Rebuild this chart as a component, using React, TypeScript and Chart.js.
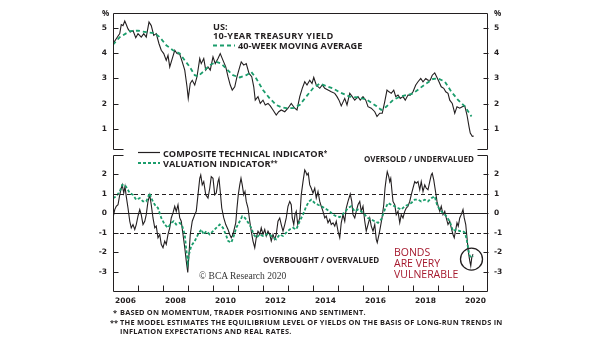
import React, { useEffect, useRef } from 'react';
import { Chart, registerables } from 'chart.js';

Chart.register(...registerables);

// ---------- DATA ----------
// US 10-year Treasury yield (%), [decimal year, value]
const treasuryYield: number[][] = [
  [2006.0, 4.38], [2006.13, 4.58], [2006.27, 4.78], [2006.33, 5.14], [2006.4, 5.1], [2006.47, 5.28], [2006.53, 5.14], [2006.6, 4.97], [2006.69, 4.84], [2006.8, 4.9], [2006.91, 4.62],
  [2007.0, 4.78], [2007.13, 4.64], [2007.23, 4.78], [2007.33, 4.64], [2007.44, 5.24], [2007.53, 5.1], [2007.63, 4.71], [2007.73, 4.78], [2007.84, 4.38], [2007.93, 4.12],
  [2008.03, 3.99], [2008.13, 3.72], [2008.2, 3.92], [2008.27, 3.46], [2008.37, 3.79], [2008.47, 4.12], [2008.56, 3.99], [2008.67, 3.96], [2008.77, 3.66], [2008.87, 3.33], [2008.96, 2.67],
  [2009.01, 2.21], [2009.09, 2.8], [2009.17, 2.93], [2009.27, 2.74], [2009.36, 3.07], [2009.47, 3.79], [2009.53, 3.59], [2009.63, 3.79], [2009.71, 3.33], [2009.8, 3.46], [2009.89, 3.33],
  [2010.0, 3.86], [2010.09, 3.59], [2010.2, 3.79], [2010.29, 3.99], [2010.4, 3.72], [2010.51, 3.46], [2010.6, 3.07], [2010.69, 2.74], [2010.77, 2.54], [2010.87, 2.67], [2010.96, 3.07],
  [2011.07, 3.46], [2011.13, 3.66], [2011.23, 3.53], [2011.33, 3.59], [2011.44, 3.2], [2011.55, 3.07], [2011.63, 2.67], [2011.69, 2.14], [2011.8, 2.28], [2011.89, 2.01],
  [2012.0, 2.14], [2012.09, 1.95], [2012.2, 2.01], [2012.29, 1.91], [2012.4, 1.75], [2012.53, 1.55], [2012.63, 1.68], [2012.73, 1.75], [2012.87, 1.68],
  [2013.0, 1.82], [2013.13, 2.01], [2013.27, 1.82], [2013.36, 1.75], [2013.47, 2.28], [2013.57, 2.61], [2013.67, 2.87], [2013.76, 2.74], [2013.87, 2.93], [2013.96, 2.8],
  [2014.03, 3.04], [2014.13, 2.74], [2014.27, 2.61], [2014.37, 2.74], [2014.47, 2.61], [2014.6, 2.54], [2014.73, 2.47], [2014.87, 2.41], [2014.96, 2.28],
  [2015.04, 2.14], [2015.13, 1.91], [2015.27, 2.21], [2015.36, 1.95], [2015.47, 2.41], [2015.57, 2.28], [2015.67, 2.14], [2015.8, 2.28], [2015.89, 2.14],
  [2016.0, 2.28], [2016.11, 2.14], [2016.2, 1.88], [2016.33, 1.82], [2016.47, 1.68], [2016.56, 1.49], [2016.67, 1.62], [2016.77, 1.62], [2016.87, 2.08], [2016.96, 2.54],
  [2017.04, 2.47], [2017.13, 2.41], [2017.23, 2.54], [2017.31, 2.28], [2017.4, 2.34], [2017.49, 2.21], [2017.6, 2.28], [2017.69, 2.14], [2017.8, 2.34], [2017.89, 2.34],
  [2018.0, 2.47], [2018.11, 2.74], [2018.2, 2.87], [2018.31, 3.0], [2018.4, 2.87], [2018.51, 3.0], [2018.6, 2.93], [2018.69, 2.93], [2018.77, 3.13], [2018.87, 3.22], [2018.96, 3.04],
  [2019.04, 2.87], [2019.13, 2.67], [2019.23, 2.61], [2019.31, 2.47], [2019.4, 2.41], [2019.47, 2.14], [2019.57, 2.01], [2019.67, 1.62], [2019.76, 1.88], [2019.87, 1.82], [2019.97, 1.88],
  [2020.07, 1.91], [2020.16, 1.55], [2020.24, 1.09], [2020.29, 0.83], [2020.37, 0.7], [2020.43, 0.72],
];

// 40-week moving average (%)
const movingAverage: number[][] = [
  [2006.0, 4.34], [2006.27, 4.64], [2006.67, 4.88], [2007.0, 4.9], [2007.33, 4.84], [2007.67, 4.8], [2007.87, 4.64],
  [2008.13, 4.32], [2008.4, 4.12], [2008.67, 3.99], [2008.87, 3.72], [2009.07, 3.46], [2009.27, 3.13], [2009.4, 3.09],
  [2009.6, 3.26], [2009.87, 3.53], [2010.13, 3.66], [2010.33, 3.59], [2010.53, 3.39], [2010.8, 3.13], [2011.07, 3.04],
  [2011.33, 3.13], [2011.53, 3.26], [2011.73, 3.0], [2012.0, 2.54], [2012.27, 2.21], [2012.53, 1.95], [2012.73, 1.86],
  [2012.93, 1.82], [2013.2, 1.82], [2013.47, 1.95], [2013.73, 2.28], [2014.0, 2.61], [2014.27, 2.8], [2014.53, 2.7],
  [2014.8, 2.61], [2015.07, 2.45], [2015.47, 2.28], [2015.8, 2.25], [2016.13, 2.17], [2016.53, 1.91], [2016.73, 1.75],
  [2016.93, 1.88], [2017.2, 2.14], [2017.47, 2.28], [2017.73, 2.34], [2018.0, 2.4], [2018.27, 2.61], [2018.53, 2.8],
  [2018.8, 2.98], [2019.0, 3.0], [2019.27, 2.88], [2019.53, 2.48], [2019.8, 2.15], [2020.07, 1.89], [2020.34, 1.49],
];

// Composite technical indicator
const technicalIndicator: number[][] = [
  [2006.0, -0.24], [2006.07, 0.19], [2006.13, 0.36], [2006.2, 0.44], [2006.27, 0.95], [2006.33, 1.29], [2006.37, 1.46], [2006.43, 1.04], [2006.48, 1.38], [2006.53, 0.87], [2006.6, 0.27], [2006.67, -0.41], [2006.73, -0.75], [2006.8, -0.58], [2006.87, -0.83], [2006.93, -0.58],
  [2007.0, -0.15], [2007.07, 0.19], [2007.13, -0.07], [2007.2, -0.58], [2007.27, -0.41], [2007.33, -0.07], [2007.4, 0.61], [2007.47, 0.95], [2007.53, 0.44], [2007.6, -0.24], [2007.67, -0.75], [2007.73, -0.66], [2007.8, -1.26], [2007.87, -1.09], [2007.93, -1.6],
  [2008.0, -1.77], [2008.07, -1.43], [2008.13, -1.6], [2008.2, -1.09], [2008.27, -0.75], [2008.33, -0.24], [2008.4, 0.02], [2008.47, 0.36], [2008.53, 0.1], [2008.6, 0.44], [2008.67, -0.24], [2008.73, -0.41], [2008.8, -1.09], [2008.87, -1.77], [2008.93, -2.45], [2008.99, -3.04],
  [2009.04, -2.11], [2009.09, -1.09], [2009.17, -0.41], [2009.27, -0.07], [2009.33, 0.1], [2009.4, 0.95], [2009.47, 1.8], [2009.51, 1.97], [2009.57, 1.46], [2009.63, 1.63], [2009.71, 0.95], [2009.8, 0.78], [2009.87, 1.29], [2009.93, 1.89],
  [2010.0, 1.8], [2010.07, 0.95], [2010.13, 1.04], [2010.2, 1.63], [2010.24, 1.8], [2010.29, 1.12], [2010.35, 0.27], [2010.43, -0.24], [2010.51, -0.58], [2010.6, -0.83], [2010.67, -1.09], [2010.73, -1.26], [2010.77, -1.17], [2010.83, -0.92], [2010.91, -0.49], [2010.96, 0.27],
  [2011.01, 0.95], [2011.07, 1.46], [2011.12, 1.8], [2011.17, 1.46], [2011.23, 0.95], [2011.28, 1.12], [2011.33, 0.61], [2011.4, 0.27], [2011.47, -0.41], [2011.53, -0.92], [2011.6, -1.43], [2011.67, -1.77], [2011.73, -1.26], [2011.8, -0.92], [2011.87, -1.09], [2011.93, -0.75],
  [2012.0, -1.09], [2012.07, -0.83], [2012.13, -1.17], [2012.2, -0.92], [2012.27, -1.09], [2012.33, -1.43], [2012.4, -1.09], [2012.47, -1.34], [2012.53, -1.09], [2012.6, -0.41], [2012.67, -0.24], [2012.73, -0.58], [2012.8, -0.92], [2012.87, -0.58], [2012.93, -0.24],
  [2013.0, 0.36], [2013.07, 0.61], [2013.13, 0.44], [2013.17, -0.24], [2013.23, -0.58], [2013.28, -0.07], [2013.33, 0.1], [2013.39, -0.58], [2013.47, -0.24], [2013.53, 0.95], [2013.6, 1.63], [2013.67, 2.23], [2013.71, 2.14], [2013.76, 1.97], [2013.81, 2.06], [2013.87, 1.46], [2013.93, 1.29],
  [2014.0, 1.04], [2014.07, 1.29], [2014.13, 0.78], [2014.2, 1.12], [2014.27, 0.61], [2014.33, 0.36], [2014.4, 0.1], [2014.47, -0.24], [2014.53, -0.15], [2014.6, -0.49], [2014.67, -0.32], [2014.73, -0.58], [2014.8, -0.49], [2014.87, -0.66], [2014.93, -0.41],
  [2015.0, -0.92], [2015.07, -1.26], [2015.13, -0.49], [2015.2, -0.07], [2015.27, -0.41], [2015.33, 0.27], [2015.4, 0.61], [2015.49, 0.99], [2015.55, 0.61], [2015.6, -0.07], [2015.67, -0.24], [2015.73, 0.1], [2015.8, 0.44], [2015.87, 0.61], [2015.93, 0.1],
  [2016.0, 0.36], [2016.07, -0.41], [2016.13, -0.92], [2016.2, -0.58], [2016.27, -0.24], [2016.33, -0.66], [2016.4, -0.92], [2016.47, -0.58], [2016.53, -1.34], [2016.57, -1.51], [2016.64, -1.09], [2016.69, -0.75], [2016.76, -0.24], [2016.83, 0.44], [2016.88, 1.29], [2016.93, 1.8], [2016.97, 2.14],
  [2017.03, 1.89], [2017.07, 1.63], [2017.11, 1.8], [2017.16, 1.12], [2017.2, 0.61], [2017.27, 0.44], [2017.33, -0.07], [2017.4, 0.1], [2017.47, -0.49], [2017.53, -0.07], [2017.6, -0.24], [2017.67, 0.1], [2017.73, 0.27], [2017.8, 0.36], [2017.87, 0.61], [2017.93, 0.95],
  [2018.0, 1.29], [2018.07, 1.63], [2018.13, 1.55], [2018.2, 1.63], [2018.27, 1.21], [2018.33, 1.63], [2018.4, 1.12], [2018.47, 1.46], [2018.53, 1.29], [2018.6, 1.21], [2018.67, 1.63], [2018.73, 1.97], [2018.77, 2.06], [2018.83, 1.72], [2018.89, 1.21], [2018.96, 0.61],
  [2019.01, 0.36], [2019.07, 0.1], [2019.13, 0.36], [2019.2, -0.07], [2019.27, 0.1], [2019.33, -0.24], [2019.4, -0.58], [2019.47, -0.41], [2019.53, -0.75], [2019.6, -1.09], [2019.65, -1.26], [2019.71, -0.83], [2019.76, -0.49], [2019.81, -0.66], [2019.87, -0.24], [2019.93, -0.07],
  [2020.0, 0.19], [2020.05, -0.24], [2020.11, -0.58], [2020.16, -1.26], [2020.21, -1.94], [2020.27, -2.45], [2020.31, -2.7], [2020.35, -2.28], [2020.4, -2.11],
];

// Valuation indicator
const valuationIndicator: number[][] = [
  [2006.0, 0.78], [2006.13, 0.87], [2006.27, 1.12], [2006.37, 1.46], [2006.47, 1.46], [2006.56, 1.29], [2006.67, 1.04], [2006.8, 0.95], [2006.93, 0.7],
  [2007.07, 0.78], [2007.2, 0.61], [2007.33, 0.61], [2007.47, 1.04], [2007.53, 0.78], [2007.67, 0.44], [2007.8, 0.27], [2007.93, -0.24],
  [2008.07, -0.58], [2008.2, -0.75], [2008.33, -0.49], [2008.43, -0.41], [2008.53, -0.58], [2008.67, -0.49], [2008.77, -0.66], [2008.87, -1.09], [2008.93, -1.85], [2008.99, -2.53],
  [2009.04, -2.11], [2009.13, -1.68], [2009.27, -1.43], [2009.4, -1.09], [2009.53, -0.83], [2009.63, -1.09], [2009.73, -0.92], [2009.87, -1.09],
  [2010.0, -0.92], [2010.13, -0.75], [2010.27, -0.58], [2010.4, -0.75], [2010.51, -1.09], [2010.61, -1.43], [2010.73, -1.51], [2010.83, -1.17], [2010.93, -0.75],
  [2011.07, -0.41], [2011.17, -0.15], [2011.28, -0.24], [2011.41, -0.49], [2011.53, -0.75], [2011.63, -1.09], [2011.73, -1.26], [2011.87, -1.09],
  [2012.0, -1.17], [2012.13, -1.09], [2012.27, -1.09], [2012.4, -1.26], [2012.53, -1.34], [2012.67, -1.09], [2012.8, -1.17], [2012.93, -1.0],
  [2013.07, -0.83], [2013.2, -0.75], [2013.33, -0.83], [2013.47, -0.41], [2013.6, -0.07], [2013.73, 0.36], [2013.84, 0.61], [2013.93, 0.7],
  [2014.07, 0.53], [2014.2, 0.44], [2014.33, 0.36], [2014.47, 0.27], [2014.67, 0.1], [2014.8, -0.07], [2014.93, -0.15],
  [2015.07, -0.2], [2015.27, 0.05], [2015.4, 0.27], [2015.53, 0.36], [2015.67, 0.1], [2015.8, 0.19], [2015.93, 0.1],
  [2016.07, -0.07], [2016.2, -0.24], [2016.33, -0.32], [2016.47, -0.41], [2016.6, -0.49], [2016.73, -0.32], [2016.87, 0.19],
  [2017.0, 0.53], [2017.13, 0.44], [2017.27, 0.36], [2017.4, 0.27], [2017.53, 0.19], [2017.67, 0.36], [2017.8, 0.44], [2017.93, 0.53],
  [2018.07, 0.7], [2018.2, 0.7], [2018.33, 0.61], [2018.47, 0.7], [2018.6, 0.61], [2018.73, 0.78], [2018.87, 0.87], [2018.96, 0.44],
  [2019.07, 0.19], [2019.2, 0.02], [2019.33, -0.15], [2019.47, -0.41], [2019.6, -0.92], [2019.73, -0.83], [2019.87, -0.92],
  [2020.0, -0.92], [2020.08, -1.0], [2020.16, -1.43], [2020.21, -1.85], [2020.27, -2.19], [2020.33, -2.28], [2020.4, -2.2],
];

const yearRange = [2006, 2021];
const yearTickMarks = [2007, 2008, 2009, 2010, 2011, 2012, 2013, 2014, 2015, 2016, 2017, 2018, 2019, 2020];
const yearLabels = [2006, 2008, 2010, 2012, 2014, 2016, 2018, 2020];
const yieldTicks = [1, 2, 3, 4, 5];
const yieldRange = [0.2, 5.6];
const indicatorTicks = [2, 1, 0, -1, -2, -3];
const indicatorRange = [-4, 3];
const bandLevels = [1, -1];
const highlightPoint = [2020.34, -2.36];

// ---------- STYLE ----------
const INK = '#231f20';
const GREEN = '#1b9d6c';
const RED = '#a5182d';
const tickFont = { family: 'DejaVu Sans', size: 7.5, weight: 'bold' as const };

const toPoints = (pairs: number[][]) => pairs.map(([x, y]) => ({ x, y }));

function yAxis(position: 'left' | 'right', ticks: number[], range: number[], width: number) {
  return {
    type: 'linear' as const,
    position,
    min: range[0],
    max: range[1],
    afterFit: (s: any) => { s.width = width; },
    afterBuildTicks: (s: any) => { s.ticks = ticks.map((v) => ({ value: v })); },
    grid: { display: false, drawTicks: false },
    border: { display: false },
    ticks: { padding: 6, color: INK, font: tickFont, autoSkip: false, callback: (v: any) => String(v) },
  };
}

function crisp(v: number) { return Math.round(v) + 0.5; }

function drawYTicks(ctx: CanvasRenderingContext2D, chart: any, ticks: number[]) {
  const { left, right } = chart.chartArea;
  const y = chart.scales.y;
  ticks.forEach((v) => {
    const py = crisp(y.getPixelForValue(v));
    ctx.moveTo(crisp(left), py); ctx.lineTo(crisp(left) + 5, py);
    ctx.moveTo(crisp(right) - 5, py); ctx.lineTo(crisp(right), py);
  });
}

const topPlugin = {
  id: 'topFrame',
  afterDatasetsDraw(chart: any) {
    const ctx = chart.ctx as CanvasRenderingContext2D;
    const { left, right, top, bottom } = chart.chartArea;
    const L = crisp(left), R = crisp(right) - 1, T = crisp(top), B = crisp(bottom);
    ctx.save();
    ctx.strokeStyle = INK;
    ctx.lineWidth = 1;
    ctx.beginPath();
    ctx.moveTo(L + 10, B); ctx.lineTo(L, B); ctx.lineTo(L, T); ctx.lineTo(R, T); ctx.lineTo(R, B); ctx.lineTo(R - 10, B);
    drawYTicks(ctx, chart, yieldTicks);
    ctx.stroke();
    // legend sample: moving average
    ctx.strokeStyle = GREEN;
    ctx.lineWidth = 1.8;
    ctx.setLineDash([4, 3]);
    ctx.beginPath();
    ctx.moveTo(213, 45.5); ctx.lineTo(235, 45.5);
    ctx.stroke();
    ctx.restore();
  },
};

const bottomPlugin = {
  id: 'bottomFrame',
  beforeDatasetsDraw(chart: any) {
    const ctx = chart.ctx as CanvasRenderingContext2D;
    const { left, right } = chart.chartArea;
    const y = chart.scales.y;
    ctx.save();
    ctx.strokeStyle = INK;
    ctx.lineWidth = 1;
    ctx.beginPath();
    const p0 = crisp(y.getPixelForValue(0));
    ctx.moveTo(left, p0); ctx.lineTo(right, p0);
    ctx.stroke();
    ctx.setLineDash([4, 3]);
    ctx.beginPath();
    bandLevels.forEach((lv) => {
      const p = crisp(y.getPixelForValue(lv));
      ctx.moveTo(left, p); ctx.lineTo(right, p);
    });
    ctx.stroke();
    ctx.restore();
  },
  afterDatasetsDraw(chart: any) {
    const ctx = chart.ctx as CanvasRenderingContext2D;
    const { left, right, top, bottom } = chart.chartArea;
    const L = crisp(left), R = crisp(right) - 1, T = crisp(top), B = crisp(bottom);
    const x = chart.scales.x;
    const y = chart.scales.y;
    ctx.save();
    ctx.strokeStyle = INK;
    ctx.lineWidth = 1;
    ctx.beginPath();
    ctx.moveTo(L + 10, T); ctx.lineTo(L, T); ctx.lineTo(L, B); ctx.lineTo(R, B); ctx.lineTo(R, T); ctx.lineTo(R - 10, T);
    drawYTicks(ctx, chart, indicatorTicks);
    yearTickMarks.forEach((yr) => {
      const px = crisp(x.getPixelForValue(yr));
      ctx.moveTo(px, B); ctx.lineTo(px, B - 6);
    });
    ctx.stroke();
    // legend samples
    ctx.lineWidth = 1.2;
    ctx.beginPath();
    ctx.moveTo(138, 152.5); ctx.lineTo(160, 152.5);
    ctx.stroke();
    ctx.strokeStyle = GREEN;
    ctx.lineWidth = 1.8;
    ctx.setLineDash([3, 2]);
    ctx.beginPath();
    ctx.moveTo(138, 163); ctx.lineTo(160, 163);
    ctx.stroke();
    // highlight circle
    ctx.setLineDash([]);
    ctx.strokeStyle = INK;
    ctx.lineWidth = 1.3;
    ctx.beginPath();
    ctx.arc(x.getPixelForValue(highlightPoint[0]), y.getPixelForValue(highlightPoint[1]), 11, 0, Math.PI * 2);
    ctx.stroke();
    ctx.restore();
  },
};

const baseOptions = {
  responsive: false,
  maintainAspectRatio: false,
  devicePixelRatio: 1,
  animation: false as const,
  events: [] as any[],
  plugins: { legend: { display: false }, tooltip: { enabled: false } },
  elements: { point: { radius: 0 }, line: { tension: 0 } },
};

type TxtProps = {
  x: number; cy: number; size: number; weight?: number; color?: string; family?: string; cap?: number; spacing?: number; children: React.ReactNode;
};
const Txt = ({ x, cy, size, weight = 700, color = INK, family = '"Open Sans"', cap = 0.53, spacing = 0, children }: TxtProps) => (
  <div
    style={{
      position: 'absolute', left: x, top: cy - size * cap, fontFamily: family, fontSize: size, fontWeight: weight,
      lineHeight: `${size}px`, color, whiteSpace: 'nowrap', letterSpacing: spacing,
    }}
  >
    {children}
  </div>
);

const Sup = ({ children }: { children: React.ReactNode }) => (
  <span style={{ fontSize: '0.7em', verticalAlign: '0.35em' }}>{children}</span>
);

export default function App() {
  const topRef = useRef<HTMLCanvasElement>(null);
  const bottomRef = useRef<HTMLCanvasElement>(null);

  useEffect(() => {
    const topChart = new Chart(topRef.current as HTMLCanvasElement, {
      type: 'line',
      data: {
        datasets: [
          { label: '40-WEEK MOVING AVERAGE', data: toPoints(movingAverage), borderColor: GREEN, borderWidth: 1.8, borderDash: [4, 3], order: 0 },
          { label: '10-YEAR TREASURY YIELD', data: toPoints(treasuryYield), borderColor: INK, borderWidth: 1.1, order: 1 },
        ],
      },
      options: {
        ...baseOptions,
        layout: { padding: { left: 0, right: 0, top: 13, bottom: 192 } },
        scales: {
          x: { type: 'linear', min: yearRange[0], max: yearRange[1], display: false },
          y: yAxis('left', yieldTicks, yieldRange, 113),
          y2: yAxis('right', yieldTicks, yieldRange, 117),
        },
      } as any,
      plugins: [topPlugin],
    });

    const bottomChart = new Chart(bottomRef.current as HTMLCanvasElement, {
      type: 'line',
      data: {
        datasets: [
          { label: 'VALUATION INDICATOR', data: toPoints(valuationIndicator), borderColor: GREEN, borderWidth: 1.8, borderDash: [3, 2], order: 0 },
          { label: 'COMPOSITE TECHNICAL INDICATOR', data: toPoints(technicalIndicator), borderColor: INK, borderWidth: 1.1, order: 1 },
        ],
      },
      options: {
        ...baseOptions,
        layout: { padding: { left: 0, right: 0, top: 155, bottom: 30 } },
        scales: {
          x: {
            type: 'linear', position: 'bottom', min: yearRange[0], max: yearRange[1],
            afterFit: (s: any) => { s.height = 20; },
            afterBuildTicks: (s: any) => { s.ticks = yearLabels.map((v) => ({ value: v + 0.5 })); },
            grid: { display: false, drawTicks: false },
            border: { display: false },
            ticks: { padding: 6, maxRotation: 0, autoSkip: false, color: INK, font: tickFont, callback: (v: any) => String(Math.floor(v)) },
          },
          y: yAxis('left', indicatorTicks, indicatorRange, 113),
          y2: yAxis('right', indicatorTicks, indicatorRange, 117),
        },
      } as any,
      plugins: [bottomPlugin],
    });

    return () => {
      topChart.destroy();
      bottomChart.destroy();
    };
  }, []);

  return (
    <div style={{ position: 'absolute', left: 0, top: 0, width: 605, height: 341, background: '#fff', overflow: 'hidden' }}>
      <canvas ref={topRef} width={605} height={341} style={{ position: 'absolute', left: 0, top: 0 }} />
      <canvas ref={bottomRef} width={605} height={341} style={{ position: 'absolute', left: 0, top: 0 }} />

      <Txt x={102} cy={13.5} size={8}>%</Txt>
      <Txt x={494} cy={13.5} size={8}>%</Txt>

      <Txt x={213} cy={26.7} size={9.2}>US:</Txt>
      <Txt x={213} cy={36} size={9.2} spacing={0.3}>10-YEAR TREASURY YIELD</Txt>
      <Txt x={238} cy={45.7} size={9.2}>40-WEEK MOVING AVERAGE</Txt>

      <Txt x={163} cy={152.5} size={9.2}>COMPOSITE TECHNICAL INDICATOR<Sup>*</Sup></Txt>
      <Txt x={163} cy={163} size={9.2}>VALUATION INDICATOR<Sup>**</Sup></Txt>

      <Txt x={364} cy={159.3} size={8}>OVERSOLD / UNDERVALUED</Txt>
      <Txt x={263} cy={260.7} size={8}>OVERBOUGHT / OVERVALUED</Txt>
      <Txt x={199} cy={276.7} size={9.5} weight={400} family='"Liberation Serif", serif' cap={0.5} color="#333">© BCA Research 2020</Txt>

      <Txt x={394} cy={252.3} size={10.5} weight={500} color={RED}>BONDS</Txt>
      <Txt x={394} cy={263.7} size={10.5} weight={500} color={RED}>ARE VERY</Txt>
      <Txt x={394} cy={275} size={10.5} weight={500} color={RED}>VULNERABLE</Txt>

      <Txt x={113} cy={313.3} size={7.4}>*</Txt>
      <Txt x={120} cy={313.3} size={7.4} spacing={0.2}>BASED ON MOMENTUM, TRADER POSITIONING AND SENTIMENT.</Txt>
      <Txt x={110} cy={322.7} size={7.4}>**</Txt>
      <Txt x={120} cy={322.7} size={7.4} spacing={0.25}>THE MODEL ESTIMATES THE EQUILIBRIUM LEVEL OF YIELDS ON THE BASIS OF LONG-RUN TRENDS IN</Txt>
      <Txt x={120} cy={332} size={7.4} spacing={0.25}>INFLATION EXPECTATIONS AND REAL RATES.</Txt>
    </div>
  );
}
